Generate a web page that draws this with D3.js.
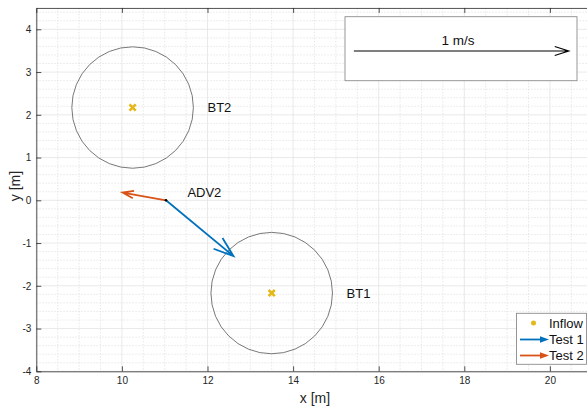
<!DOCTYPE html>
<html>
<head>
<meta charset="utf-8">
<script src="https://cdn.jsdelivr.net/npm/d3@7"></script>
<style>
  html, body { margin: 0; padding: 0; background: #fff; }
  svg { display: block; font-family: "Liberation Sans", Arial, Helvetica, sans-serif; }
</style>
</head>
<body>
<svg id="chart" width="587" height="408"></svg>
<script>
// Bottom-tracking targets (circles) and their centres
const targetNames = ["BT1", "BT2"];
const targetX = [13.5, 10.25];
const targetY = [-2.17, 2.17];
const targetRadius = [1.42, 1.42];

// ADV position
const advName = "ADV2";
const advX = 11.03;
const advY = 0.0;

// Measured mean velocity at the ADV for each test [m/s]
const testNames = ["Test 1", "Test 2"];
const testU = [0.314, -0.202];
const testV = [-0.26, 0.036];
const testColors = ["#0072BD", "#D95319"];

// Reference vector
const refSpeed = 1;          // m/s
const refLabel = "1 m/s";
const quiverScale = 5.02;    // plot metres per 1 m/s

// Axis ticks
const xTicks = [8, 10, 12, 14, 16, 18, 20];
const yTicks = [-4, -3, -2, -1, 0, 1, 2, 3, 4];
const xMinor = d3.range(8, 21.01, 0.5);
const yMinor = d3.range(-4, 4.501, 0.2).map(d => +d.toFixed(2));

const svg = d3.select("#chart");

const x = d3.scaleLinear().domain([8, 21]).range([36.3, 36.3 + 13 * 42.8]);
const y = d3.scaleLinear().domain([-4, 4.5]).range([371.3, 371.3 - 8.5 * 42.75]);

const pLeft = x(8), pRight = x(21), pTop = y(4.5), pBottom = y(-4);
const axisColor = "#262626";

// grid
const grid = svg.append("g");
grid.selectAll(".xm").data(xMinor.filter(d => !xTicks.includes(d))).join("line")
  .attr("x1", d => x(d)).attr("x2", d => x(d)).attr("y1", pTop).attr("y2", pBottom)
  .attr("stroke", "#dedede").attr("stroke-width", 0.7).attr("stroke-dasharray", "1.5,1.5");
grid.selectAll(".ym").data(yMinor.filter(d => !yTicks.includes(Math.round(d * 1000) / 1000))).join("line")
  .attr("y1", d => y(d)).attr("y2", d => y(d)).attr("x1", pLeft).attr("x2", pRight)
  .attr("stroke", "#dedede").attr("stroke-width", 0.7).attr("stroke-dasharray", "1.5,1.5");
grid.selectAll(".xg").data(xTicks).join("line")
  .attr("x1", d => x(d)).attr("x2", d => x(d)).attr("y1", pTop).attr("y2", pBottom)
  .attr("stroke", "#e3e3e3").attr("stroke-width", 0.8);
grid.selectAll(".yg").data(yTicks).join("line")
  .attr("y1", d => y(d)).attr("y2", d => y(d)).attr("x1", pLeft).attr("x2", pRight)
  .attr("stroke", "#e3e3e3").attr("stroke-width", 0.8);

// axes (ticks pointing inward)
const fmt = d => String(d);
const xAxis = svg.append("g").attr("transform", `translate(0,${pBottom})`)
  .call(d3.axisBottom(x).tickValues(xTicks).tickSizeInner(-5).tickSizeOuter(0).tickPadding(6).tickFormat(fmt));
const xAxisTop = svg.append("g").attr("transform", `translate(0,${pTop})`)
  .call(d3.axisTop(x).tickValues(xTicks).tickSizeInner(-5).tickSizeOuter(0).tickFormat(""));
const yAxis = svg.append("g").attr("transform", `translate(${pLeft},0)`)
  .call(d3.axisLeft(y).tickValues(yTicks).tickSizeInner(-5).tickSizeOuter(0).tickPadding(5).tickFormat(fmt));
[xAxis, xAxisTop, yAxis].forEach(g => {
  g.select(".domain").attr("stroke", axisColor).attr("stroke-width", 0.8);
  g.selectAll(".tick line").attr("stroke", axisColor).attr("stroke-width", 0.8);
  g.selectAll(".tick text").attr("fill", axisColor).style("font-size", "10px");
});

// axis labels
svg.append("text").attr("x", 315).attr("y", 403)
  .attr("text-anchor", "middle").attr("fill", axisColor).style("font-size", "14px").text("x [m]");
svg.append("text").attr("transform", "translate(20,186) rotate(-90)")
  .attr("text-anchor", "middle").attr("fill", axisColor).style("font-size", "14px").text("y [m]");

// targets
const kx = x(1) - x(0), ky = y(0) - y(1);
svg.selectAll(".target").data(targetNames).join("ellipse")
  .attr("cx", (d, i) => x(targetX[i])).attr("cy", (d, i) => y(targetY[i]))
  .attr("rx", (d, i) => targetRadius[i] * kx).attr("ry", (d, i) => targetRadius[i] * ky)
  .attr("fill", "none").attr("stroke", "#555").attr("stroke-width", 0.8);

// centre markers
const cross = svg.append("g");
targetNames.forEach((d, i) => {
  const cx = x(targetX[i]), cy = y(targetY[i]), s = 3.1;
  cross.append("path")
    .attr("d", `M${cx - s},${cy - s}L${cx + s},${cy + s}M${cx - s},${cy + s}L${cx + s},${cy - s}`)
    .attr("stroke", "#E5B81A").attr("stroke-width", 2.6).attr("fill", "none");
});

// target labels
svg.selectAll(".tlabel").data(targetNames).join("text")
  .attr("x", (d, i) => x(targetX[i] + 1.75)).attr("y", (d, i) => y(targetY[i]))
  .attr("dy", "0.35em").attr("fill", "#111").style("font-size", "13px").text(d => d);

// quiver-style arrow with open head
function arrow(g, x0, y0, x1, y1, color, width, back, side) {
  const dx = x1 - x0, dy = y1 - y0, L = Math.hypot(dx, dy);
  const ux = dx / L, uy = dy / L;
  const bx = x1 - ux * back, by = y1 - uy * back;
  g.append("path")
    .attr("d", `M${x0},${y0}L${x1},${y1}M${bx - uy * side},${by + ux * side}L${x1},${y1}L${bx + uy * side},${by - ux * side}`)
    .attr("stroke", color).attr("stroke-width", width).attr("fill", "none")
    .attr("stroke-linejoin", "miter").attr("stroke-linecap", "butt");
}

const q = svg.append("g");
testNames.forEach((d, i) => {
  const x0 = x(advX), y0 = y(advY);
  const x1 = x(advX + testU[i] * quiverScale), y1 = y(advY + testV[i] * quiverScale);
  const L = Math.hypot(x1 - x0, y1 - y0);
  arrow(q, x0, y0, x1, y1, testColors[i], 1.8, Math.min(0.25 * L, 20), Math.min(0.085 * L, 7));
});
svg.append("circle").attr("cx", x(advX)).attr("cy", y(advY)).attr("r", 1.3).attr("fill", "#000");
svg.append("text").attr("x", x(advX + 0.5)).attr("y", y(advY + 0.18)).attr("dy", "0.35em")
  .attr("fill", "#111").style("font-size", "13px").text(advName);

// reference vector box
const ref = svg.append("g");
ref.append("rect").attr("x", 345).attr("y", 16.7).attr("width", 232).attr("height", 64)
  .attr("fill", "#fff").attr("stroke", "#8c8c8c").attr("stroke-width", 0.9);
const rx0 = x(15.42), ry = 51;
arrow(ref, rx0, ry, rx0 + refSpeed * quiverScale * kx, ry, "#000", 1.2, 14, 4.5);
ref.append("text").attr("x", 458).attr("y", 45).attr("text-anchor", "middle")
  .attr("fill", "#111").style("font-size", "13.5px").text(refLabel);

// legend
const lg = svg.append("g");
lg.append("rect").attr("x", 516.5).attr("y", 313.3).attr("width", 70).attr("height", 51)
  .attr("fill", "#fff").attr("stroke", "#8c8c8c").attr("stroke-width", 0.9);
const legendItems = ["Inflow"].concat(testNames);
const rowY = [323, 339.5, 355.5];
legendItems.forEach((name, i) => {
  if (i === 0) {
    lg.append("circle").attr("cx", 533.5).attr("cy", rowY[i]).attr("r", 2.5)
      .attr("fill", "#E5B81A");
  } else {
    const c = testColors[i - 1];
    lg.append("line").attr("x1", 520).attr("x2", 543).attr("y1", rowY[i]).attr("y2", rowY[i])
      .attr("stroke", c).attr("stroke-width", 1.8);
    lg.append("path").attr("d", `M540,${rowY[i] - 3.3}L549,${rowY[i]}L540,${rowY[i] + 3.3}Z`).attr("fill", c);
  }
  lg.append("text").attr("x", 549).attr("y", rowY[i]).attr("dy", "0.36em")
    .attr("fill", "#111").style("font-size", "13px").text(name);
});
</script>
</body>
</html>
